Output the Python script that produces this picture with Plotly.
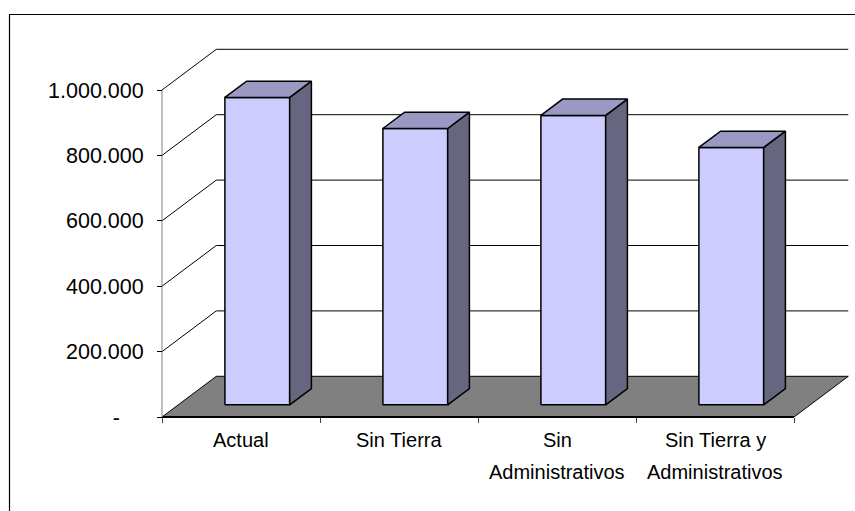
import plotly.graph_objects as go

# ---------------- data ----------------
categories = ["Actual", "Sin Tierra", "Sin\nAdministrativos", "Sin Tierra y\nAdministrativos"]
values = [940000, 845000, 885000, 787000]
tick_values = [0, 200000, 400000, 600000, 800000, 1000000]
tick_labels = ["-" + "\u00a0" * 4, "200.000", "400.000", "600.000", "800.000", "1.000.000"]

# ---------------- geometry (pixel mapping) ----------------
W, H = 855, 511
PX_X0, PX_CAT = 162.0, 158.0          # front x-axis origin, pixels per category
PX_Y0, PX_PER_UNIT = 417.0, 327.0 / 1e6  # front y origin, pixels per value unit
Dx = 54.3 / PX_CAT                     # depth vector in category units
Dy = 40.7 / PX_PER_UNIT                # depth vector in value units
BAR_W = 0.41
D0, D1 = 0.3, 0.7                      # bar depth span (fraction of floor depth)
N = len(categories)

L, R, T, B = 150, 855, 30, 434
x_range = [(L - PX_X0) / PX_CAT, (R - PX_X0) / PX_CAT]
y_range = [(PX_Y0 - B) / PX_PER_UNIT, (PX_Y0 - T) / PX_PER_UNIT]

FRONT = "#CCCCFF"
SIDE = "#666680"
TOP = "#9999C4"
FLOOR = "#808080"

fig = go.Figure()

# gridlines on left and back walls
gx, gy = [], []
for v in tick_values[1:]:
    gx += [0, Dx, N + Dx, None]
    gy += [v, v + Dy, v + Dy, None]
fig.add_trace(go.Scatter(x=gx, y=gy, mode="lines", line=dict(color="#000000", width=1),
                         hoverinfo="skip"))

# floor
fig.add_trace(go.Scatter(x=[0, N, N + Dx, Dx, 0], y=[0, 0, Dy, Dy, 0], mode="lines",
                         fill="toself", fillcolor=FLOOR, line=dict(color="#000000", width=1),
                         hoverinfo="skip"))
# front edge of floor (x axis line)
fig.add_trace(go.Scatter(x=[0, N], y=[0, 0], mode="lines", line=dict(color="#000000", width=2),
                         hoverinfo="skip"))
# y axis line
fig.add_trace(go.Scatter(x=[0, 0], y=[0, tick_values[-1]], mode="lines",
                         line=dict(color="#808080", width=1), hoverinfo="skip"))

# bars
for i, v in enumerate(values):
    x0 = i + 0.5 - BAR_W / 2 + D0 * Dx
    x1 = x0 + BAR_W
    yb = D0 * Dy
    yt = v + D0 * Dy
    ddx = (D1 - D0) * Dx
    ddy = (D1 - D0) * Dy
    faces = [
        ([x0, x1, x1, x0, x0], [yb, yb, yt, yt, yb], FRONT),
        ([x1, x1 + ddx, x1 + ddx, x1, x1], [yb, yb + ddy, yt + ddy, yt, yb], SIDE),
        ([x0, x1, x1 + ddx, x0 + ddx, x0], [yt, yt, yt + ddy, yt + ddy, yt], TOP),
    ]
    for fx, fy, col in faces:
        fig.add_trace(go.Scatter(x=fx, y=fy, mode="lines", fill="toself", fillcolor=col,
                                 line=dict(color="#000000", width=1.5), hoverinfo="skip"))

# category labels
annotations = []
for i, cat in enumerate(categories):
    for j, line in enumerate(cat.split("\n")):
        annotations.append(dict(x=i + 0.5, y=0, xref="x", yref="y", text=line,
                                showarrow=False, xanchor="center", yanchor="middle",
                                yshift=-(23 + 32 * j),
                                font=dict(family="Liberation Sans, Arial", size=20, color="#000000")))

fig.update_layout(
    width=W, height=H,
    margin=dict(l=0, r=0, t=0, b=0),
    paper_bgcolor="white", plot_bgcolor="rgba(0,0,0,0)",
    showlegend=False,
    font=dict(family="Liberation Sans, Arial", size=20, color="#000000"),
    xaxis=dict(domain=[L / W, R / W], range=x_range, anchor="free", position=1 - PX_Y0 / H,
               showgrid=False, zeroline=False, showline=False,
               tickmode="array", tickvals=list(range(N + 1)), showticklabels=False,
               ticks="outside", ticklen=5, tickcolor="#404040", tickwidth=1),
    yaxis=dict(domain=[1 - B / H, 1 - T / H], range=y_range, anchor="free", position=PX_X0 / W,
               showgrid=False, zeroline=False, showline=False,
               tickmode="array", tickvals=tick_values, ticktext=tick_labels,
               ticks="outside", ticklen=5, tickcolor="#000000", tickwidth=1,
               ticklabelstandoff=9,
               tickfont=dict(family="Liberation Sans, Arial", size=21.5, color="#000000")),
    annotations=annotations,
    shapes=[dict(type="rect", xref="paper", yref="paper",
                 x0=9.5 / W, x1=1.05, y0=-0.05, y1=1 - 14.5 / H,
                 line=dict(color="#000000", width=1.2), fillcolor="rgba(0,0,0,0)")],
)

fig.write_html("out.html")
